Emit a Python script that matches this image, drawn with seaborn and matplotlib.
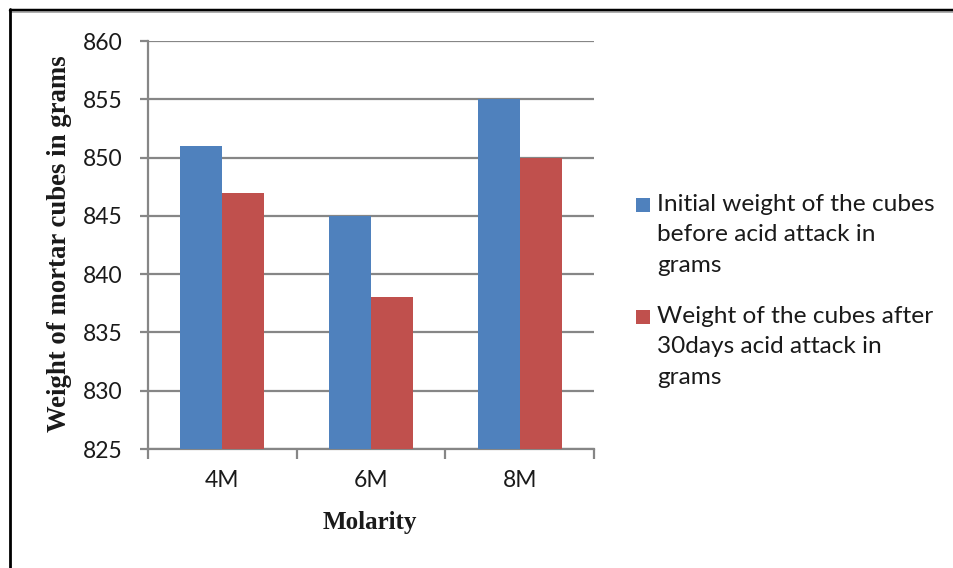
import matplotlib
matplotlib.use("Agg")
import matplotlib.pyplot as plt
from matplotlib.lines import Line2D
from matplotlib.patches import Rectangle
import seaborn as sns
import pandas as pd

# Data
molarity = ["4M", "6M", "8M"]
initial_weight = [851, 845, 855]
weight_after_30days = [847, 838, 850]
series_names = [
    "Initial weight of the cubes\nbefore acid attack in\ngrams",
    "Weight of the cubes after\n30days acid attack in\ngrams",
]
y_ticks = [825, 830, 835, 840, 845, 850, 855, 860]

colors = ["#4F81BD", "#C0504D"]
grid_color = "#868686"
text_color = "#1a1a1a"

df = pd.DataFrame({
    "Molarity": molarity * 2,
    "Weight": initial_weight + weight_after_30days,
    "Series": [series_names[0]] * 3 + [series_names[1]] * 3,
})

sns.set_theme(style="white")
plt.rcParams["font.family"] = ["Lato", "DejaVu Sans"]

W, H = 954, 568
fig = plt.figure(figsize=(W / 100, H / 100), dpi=100)
ax = fig.add_axes([148 / W, 1 - 449 / H, (594 - 148) / W, (449 - 41) / H])

sns.barplot(data=df, x="Molarity", y="Weight", hue="Series", palette=colors,
            width=0.565, saturation=1, ax=ax, legend=False, zorder=3,
            edgecolor="none")

ax.set_ylim(825, 860)
ax.set_xlim(-0.5, 2.5)
ax.set_yticks(y_ticks)
ax.set_yticklabels([str(v) for v in y_ticks], fontsize=16.5, color=text_color)
ax.set_xticks(range(len(molarity)))
ax.set_xticklabels(molarity, fontsize=16.5, color=text_color)

# horizontal gridlines
for v in y_ticks:
    ax.axhline(v, color=grid_color, lw=1.6, zorder=1)

for s in ["top", "right"]:
    ax.spines[s].set_visible(False)
for s in ["left", "bottom"]:
    ax.spines[s].set_color(grid_color)
    ax.spines[s].set_linewidth(1.6)

ax.tick_params(axis="y", which="major", length=6, width=1.6, color=grid_color, pad=12, left=True)
ax.tick_params(axis="x", which="major", length=0, pad=15)
# tick marks at the category boundaries
ax.set_xticks([-0.5, 0.5, 1.5, 2.5], minor=True)
ax.tick_params(axis="x", which="minor", length=7, width=1.6, color=grid_color, bottom=True)

ax.set_xlabel("")
ax.set_ylabel("")
ax.patch.set_alpha(0)

fig.text(370 / W, 1 - 522 / H, "Molarity", fontsize=18, fontweight="bold",
         family="Liberation Serif", ha="center", va="center", color=text_color)
fig.text(60 / W, 1 - 244 / H, "Weight of mortar cubes in grams", fontsize=19.3,
         fontweight="bold", family="Liberation Serif", rotation=90,
         ha="center", va="center", color=text_color)

# legend: square swatch beside the first line of each entry
legend_tops = [194, 306]
for c, name, top in zip(colors, series_names, legend_tops):
    fig.add_artist(Rectangle((636 / W, 1 - (top + 4 + 14) / H), 14 / W, 14 / H,
                             facecolor=c, edgecolor="none", transform=fig.transFigure))
    fig.text(657 / W, 1 - top / H, name, fontsize=17.6, ha="left", va="top",
             linespacing=1.55, color=text_color)

# outer frame
fig.add_artist(Line2D([10 / W, 1], [1 - 9.5 / H] * 2, color="black", lw=2.5, transform=fig.transFigure))
fig.add_artist(Line2D([10 / W, 1], [1 - 12 / H] * 2, color="#AAAAAA", lw=1.2, transform=fig.transFigure))
fig.add_artist(Line2D([10.5 / W] * 2, [0, 1 - 9 / H], color="black", lw=2.0, transform=fig.transFigure))

fig.savefig("out.png", dpi=100)
